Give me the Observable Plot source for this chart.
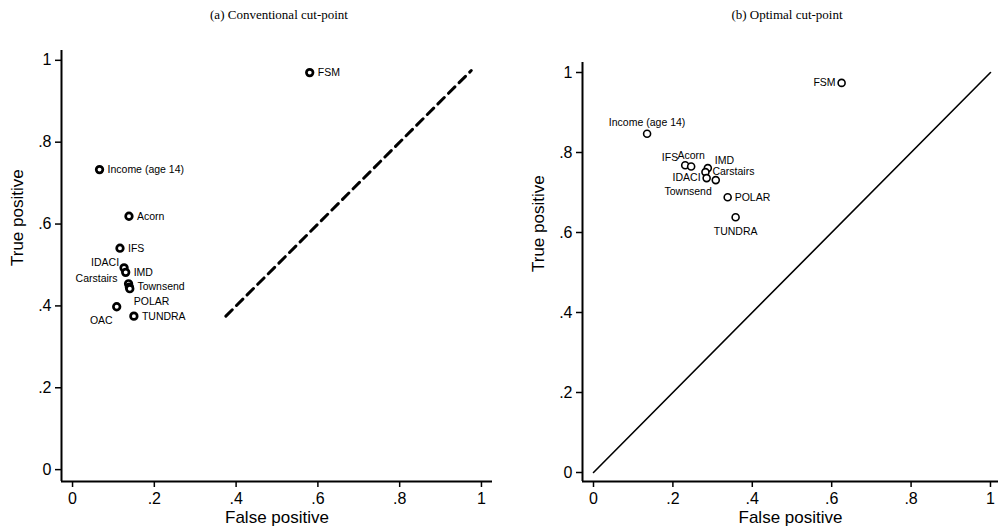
<!DOCTYPE html>
<html><head><meta charset="utf-8">
<script src="https://cdn.jsdelivr.net/npm/d3@7"></script>
<script src="https://cdn.jsdelivr.net/npm/@observablehq/plot@0.6"></script>
<style>
body{margin:0;background:#fff;}
#wrap{position:relative;width:998px;height:530px;overflow:hidden;background:#fff;}
.title{position:absolute;top:7px;font-family:"Liberation Serif","Times New Roman",serif;font-size:13px;color:#000;text-align:center;white-space:nowrap;}
.panel{position:absolute;top:0;}
</style></head><body>
<div id="wrap">
  <div class="title" style="left:0;width:558px;">(a) Conventional cut-point</div>
  <div class="title" style="left:576px;width:422px;">(b) Optimal cut-point</div>
  <div class="panel" id="pa" style="left:0;"></div>
  <div class="panel" id="pb" style="left:499px;"></div>
</div>
<script>
// Panel (a): conventional cut-point
const measuresA = ["FSM","Income (age 14)","Acorn","IFS","IDACI","IMD","Carstairs","Townsend","POLAR","OAC","TUNDRA"];
const falsePosA = [0.580, 0.066, 0.138, 0.116, 0.126, 0.130, 0.137, 0.139, 0.140, 0.108, 0.150];
const truePosA  = [0.970, 0.733, 0.619, 0.541, 0.493, 0.482, 0.454, 0.446, 0.442, 0.398, 0.375];
const clockA    = [3, 3, 3, 3, 11, 3, 10, 3, 5, 7, 3];
const refLineA  = [0.375, 0.975];

// Panel (b): optimal cut-point
const measuresB = ["FSM","Income (age 14)","IFS","Acorn","IMD","Carstairs","IDACI","Townsend","POLAR","TUNDRA"];
const falsePosB = [0.625, 0.135, 0.231, 0.246, 0.288, 0.282, 0.285, 0.308, 0.338, 0.358];
const truePosB  = [0.974, 0.847, 0.768, 0.765, 0.761, 0.751, 0.736, 0.731, 0.688, 0.638];
const clockB    = [9, 12, 11, 12, 1, 3, 9, 7, 3, 6];
const refLineB  = [0, 1];

const tickValues = [0, 0.2, 0.4, 0.6, 0.8, 1];
const xTitle = "False positive";
const yTitle = "True positive";

const fmt = d => d === 0 ? "0" : d === 1 ? "1" : d3.format(".1f")(d).replace(/^0/, "");

function makePanel(opts) {
  const data = opts.names.map((n, i) => ({name: n, fp: opts.fp[i], tp: opts.tp[i], clock: opts.clock[i]}));
  const line = opts.ref.map(v => ({x: v, y: v}));
  const labelMarks = Object.entries(opts.offsets).map(([c, [dx, dy, anchor]]) =>
    Plot.text(data.filter(d => d.clock === +c), {
      x: "fp", y: "tp", text: "name", dx, dy, textAnchor: anchor,
      fontSize: 10.5, fill: "#000"
    }));
  return Plot.plot({
    width: 499, height: 530,
    marginLeft: opts.marginLeft, marginRight: opts.marginRight,
    marginTop: opts.marginTop, marginBottom: 49,
    style: {fontFamily: "Liberation Sans, Arial, sans-serif", fontSize: "16px", color: "#000", background: "transparent", overflow: "visible"},
    x: {domain: opts.xDomain},
    y: {domain: opts.yDomain},
    marks: [
      Plot.line(line, {x: "x", y: "y", stroke: "#000", strokeWidth: opts.lineWidth, strokeDasharray: opts.dash}),
      Plot.dot(data, {x: "fp", y: "tp", r: opts.r, stroke: "#000", strokeWidth: opts.sw, fill: "white"}),
      ...labelMarks,
      Plot.ruleX([opts.xDomain[0]], {stroke: "#000", strokeWidth: 2}),
      Plot.ruleY([opts.yDomain[0]], {stroke: "#000", strokeWidth: 2}),
      Plot.axisX({ticks: tickValues, tickFormat: fmt, tickSize: 6, tickPadding: 5, strokeWidth: 1.5, label: null, fontSize: 16}),
      Plot.axisY({ticks: tickValues, tickFormat: fmt, tickSize: 6, tickPadding: 4, strokeWidth: 1.5, label: null, fontSize: 16}),
      Plot.text([xTitle], {frameAnchor: "bottom", dy: 41, fontSize: 17, fill: "#000"}),
      Plot.text([yTitle], {frameAnchor: "left", rotate: -90, dx: -44, fontSize: 17, fill: "#000"})
    ]
  });
}

document.getElementById("pa").appendChild(makePanel({
  names: measuresA, fp: falsePosA, tp: truePosA, clock: clockA, ref: refLineA,
  marginLeft: 61, marginRight: 7, marginTop: 50,
  xDomain: [-0.027, 1.027], yDomain: [-0.029, 1.024],
  lineWidth: 3, dash: "9,6", r: 3.3, sw: 2.7,
  offsets: {3: [8, 0, "start"], 10: [-11, -5, "end"], 11: [-5, -5, "end"], 5: [4, 13, "start"], 7: [-4, 14, "end"]}
}));

document.getElementById("pb").appendChild(makePanel({
  names: measuresB, fp: falsePosB, tp: truePosB, clock: clockB, ref: refLineB,
  marginLeft: 83, marginRight: 0, marginTop: 62,
  xDomain: [-0.0277, 1.0202], yDomain: [-0.0225, 1.025],
  lineWidth: 1.6, dash: null, r: 3.5, sw: 1.6,
  offsets: {3: [7, 0, "start"], 9: [-6, 0, "end"], 12: [0, -11, "middle"], 6: [0, 14, "middle"], 1: [7, -7, "start"], 11: [-7, -8, "end"], 7: [-4, 12, "end"]}
}));
</script>
</body></html>
